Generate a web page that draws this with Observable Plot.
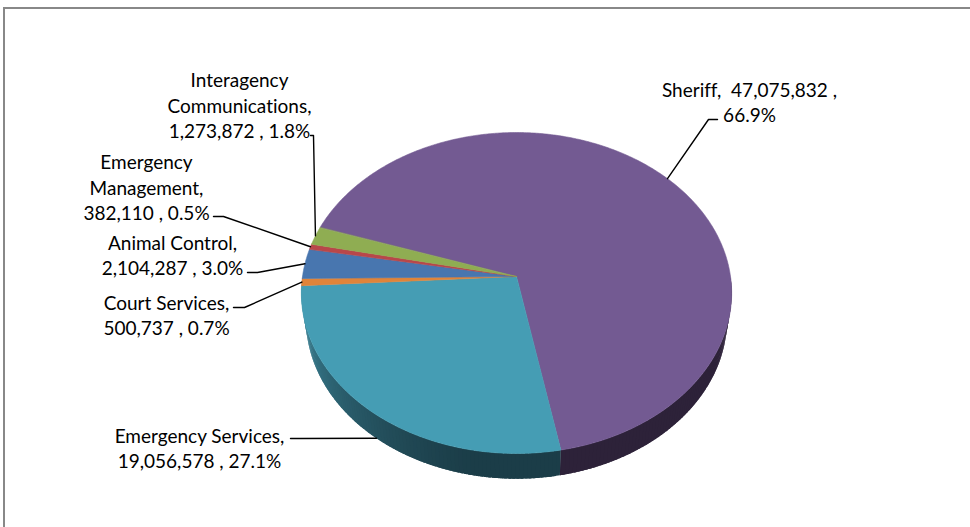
<!DOCTYPE html>
<html>
<head>
<meta charset="utf-8">
<script src="https://cdn.jsdelivr.net/npm/d3@7"></script>
<script src="https://cdn.jsdelivr.net/npm/@observablehq/plot@0.6"></script>
<style>
  html, body { margin: 0; padding: 0; background: #fff; }
  #wrap { position: relative; width: 970px; height: 527px; overflow: hidden; }
  #border { position: absolute; left: 3px; top: 7px; width: 980px; height: 540px;
            border-top: 2px solid #888; border-left: 2px solid #888; pointer-events: none; }
  svg text { font-variant-ligatures: none; font-feature-settings: "liga" 0, "clig" 0; }
</style>
</head>
<body>
<div id="wrap"><div id="border"></div></div>
<script>
// ---- data ----
const categories = ["Sheriff", "Emergency Services", "Court Services", "Animal Control", "Emergency Management", "Interagency Communications"];
const values = [47075832, 19056578, 500737, 2104287, 382110, 1273872];
// label name parts as they wrap in the chart
const labelNames = ["Sheriff,\u00a0 ", "Emergency Services,\n", "Court Services,\n", "Animal Control,\n", "Emergency\nManagement,\n", "Interagency\nCommunications,\n"];
const labelSeps = [" ,\n", " , ", " , ", " , ", " , ", " , "];

// ---- styles ----
const topColors = ["#735a92", "#459db4", "#e0843a", "#4876af", "#b8474a", "#8fad52"];
const sideDark = ["#2d2239", "#1b3d48", "#7a4415", "#253d5c", "#5c2324", "#475a28"];
const sideLight = ["#4a3a60", "#3f8a9e", "#b06a2d", "#3f679a", "#93393b", "#71893f"];

// ---- layout ----
const geo = {cx: 516, cy: 276, R: 214, d: 6.52, elev: 47.9, h: 0.188, start: 198.5};
const labelLayout = [
  {x: 749, y: 101, path: [[717, 119], [708, 119]], side: false},
  {x: 199, y: 447, path: [[290, 438], [300, 438]], side: true},
  {x: 166, y: 314, path: [[233, 307], [244, 307]], side: false},
  {x: 172, y: 254, path: [[247, 272], [257, 272]], side: false},
  {x: 146, y: 186, path: [[213, 216], [223, 216]], side: false},
  {x: 239, y: 104, path: [[310, 135], [313, 135]], side: false}
];
const fontSize = 19;

// ---- geometry (perspective 3D pie) ----
const rad = Math.PI / 180;
const sE = Math.sin(geo.elev * rad), cE = Math.cos(geo.elev * rad);
const K = geo.R * geo.d;
function proj(phiDeg, Y) {
  const X = Math.cos(phiDeg * rad), Z = Math.sin(phiDeg * rad);
  const depth = geo.d - (Y * sE + Z * cE);
  return [geo.cx + K * X / depth, geo.cy + K * (Z * sE - Y * cE) / depth];
}
const apex = [geo.cx, geo.cy];

const total = d3.sum(values);
const arcs = d3.pie().sort(null).value(d => d)(values);
const slices = arcs.map((a, i) => ({
  i, a0: geo.start + a.startAngle / rad, a1: geo.start + a.endAngle / rad
}));

function arcPts(a0, a1, Y) {
  const n = Math.max(2, Math.ceil((a1 - a0) / 0.5));
  const pts = [];
  for (let k = 0; k <= n; k++) pts.push(proj(a0 + (a1 - a0) * k / n, Y));
  return pts;
}

// top faces
const topData = [];
slices.forEach(s => {
  const pts = [apex, ...arcPts(s.a0, s.a1, 0)];
  pts.forEach(([x, y]) => topData.push({id: "t" + s.i, x, y, col: topColors[s.i]}));
});

// side strips (front half only: 0..180 deg), overlapping to avoid seams
const sideData = [];
slices.forEach(s => {
  for (const k of [0, 360]) {
    const lo = Math.max(s.a0, k), hi = Math.min(s.a1, k + 180);
    if (hi <= lo) continue;
    const step = 1;
    for (let a = lo; a < hi; a += step) {
      const b = Math.min(hi, a + step);
      const bb = Math.min(hi, b + 0.8);
      const mid = ((a + b) / 2) % 360;
      let t = Math.max(0, Math.min(1, (mid - 100) / 75));
      t = Math.pow(t, 1.3);
      const col = d3.interpolateLab(sideDark[s.i], sideLight[s.i])(t);
      const id = "s" + s.i + "_" + a.toFixed(2);
      const p = [...arcPts(a, bb, 0), ...arcPts(a, bb, -geo.h).reverse()];
      p.forEach(([x, y]) => sideData.push({id, x, y, col}));
    }
  }
});

// labels and leaders
const fmt = d3.format(",");
const labelData = [];
const leaderData = [];
slices.forEach(s => {
  const L = labelLayout[s.i];
  const pct = (values[s.i] / total * 100).toFixed(1) + "%";
  labelData.push({x: L.x, y: L.y, text: labelNames[s.i] + fmt(values[s.i]) + labelSeps[s.i] + pct});
  const mid = (s.a0 + s.a1) / 2;
  const anchor = proj(mid, L.side ? -geo.h : 0);
  [...L.path, anchor].forEach(([x, y]) => leaderData.push({id: "l" + s.i, x, y}));
});

const chart = Plot.plot({
  width: 970,
  height: 527,
  margin: 0,
  x: {domain: [0, 970], range: [0, 970], axis: null},
  y: {domain: [0, 527], range: [0, 527], axis: null},
  color: {type: "identity"},
  style: {background: "transparent", fontFamily: "Lato"},
  marks: [
    Plot.line(sideData, {x: "x", y: "y", z: "id", fill: "col", stroke: "none", curve: "linear-closed"}),
    Plot.line(topData, {x: "x", y: "y", z: "id", fill: "col", stroke: "col", strokeWidth: 0.6, curve: "linear-closed"}),
    Plot.line(leaderData, {x: "x", y: "y", z: "id", stroke: "#000", strokeWidth: 1.4}),
    Plot.text(labelData, {x: "x", y: "y", text: "text", fontSize, fontFamily: "Lato", lineHeight: 1.32, fill: "#000", textAnchor: "middle"})
  ]
});
chart.style.position = "absolute";
chart.style.left = "0px";
chart.style.top = "0px";
document.getElementById("wrap").prepend(chart);
</script>
</body>
</html>
